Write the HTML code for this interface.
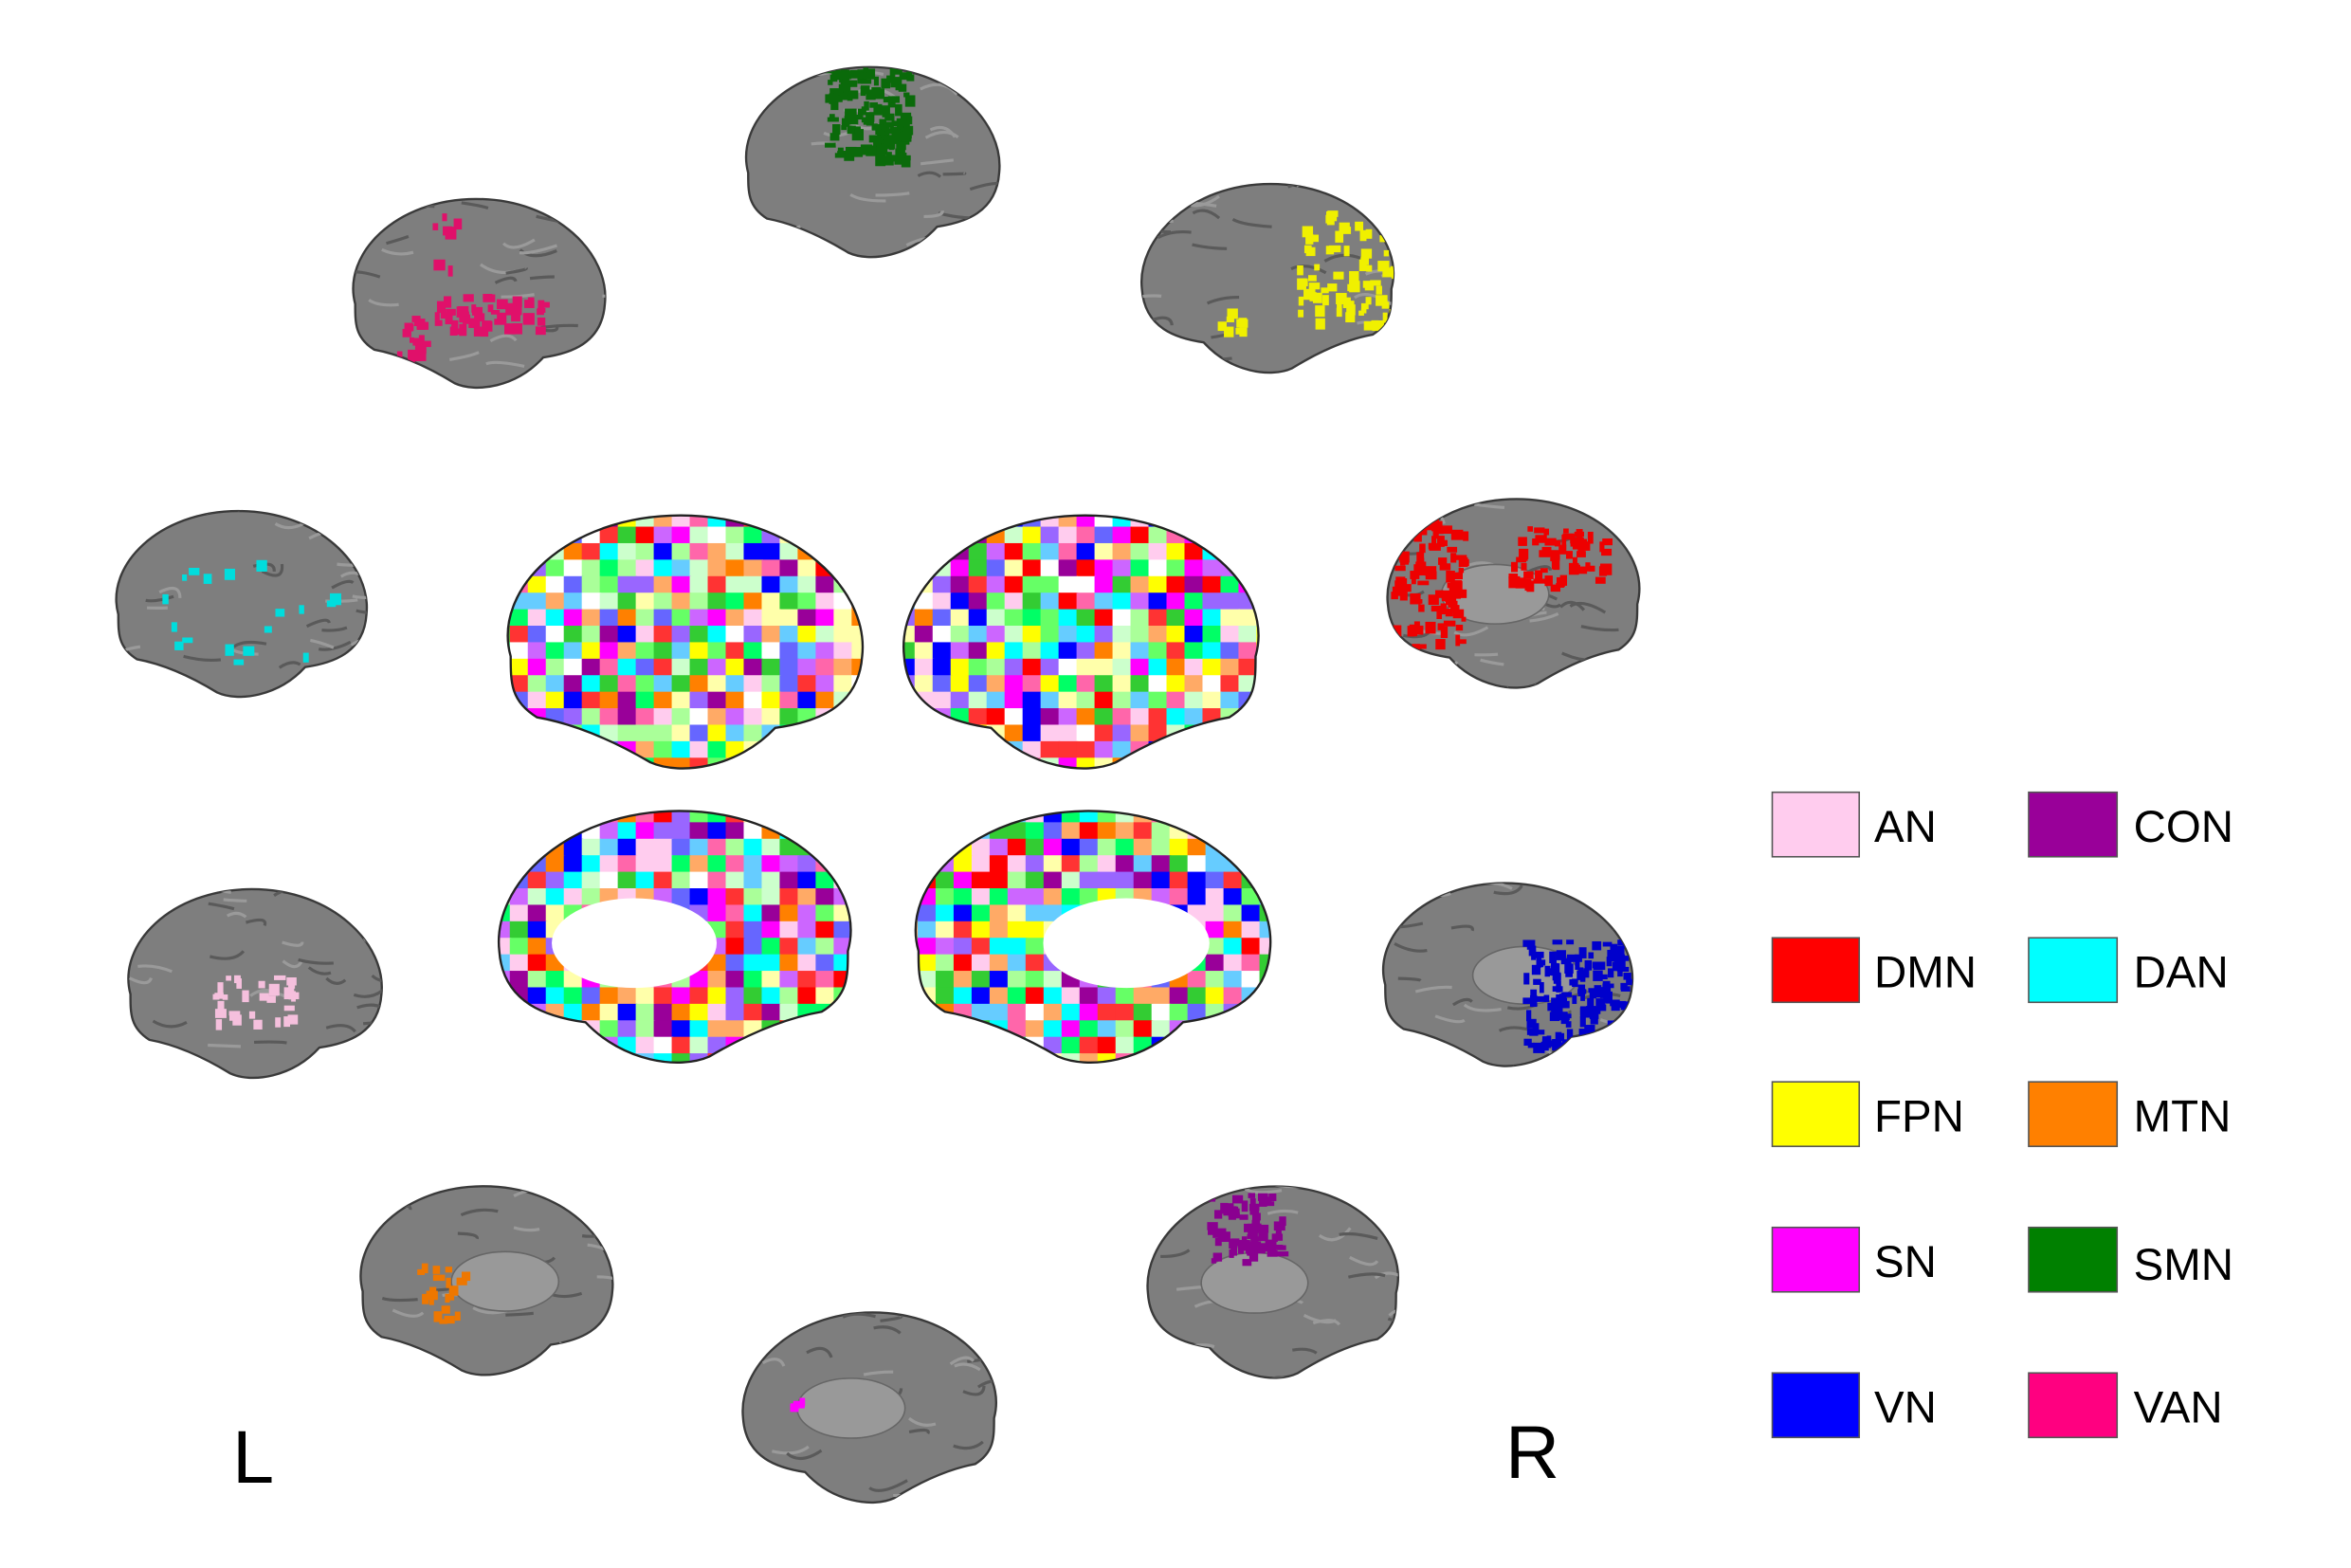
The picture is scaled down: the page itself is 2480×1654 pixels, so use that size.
<!DOCTYPE html>
<html><head><meta charset="utf-8">
<style>
html,body{margin:0;padding:0;background:#fff;}
#wrap{width:2480px;height:1654px;position:relative;overflow:hidden;}
svg{position:absolute;left:0;top:0;}
text{font-family:"Liberation Sans",Arial,sans-serif;}
</style></head>
<body><div id="wrap">
<svg id="s" width="2480" height="1654" viewBox="0 0 1568 1045" preserveAspectRatio="none" xmlns="http://www.w3.org/2000/svg">
<defs></defs>
<g id="brains"></g>
<g font-size="30" fill="#000">
<rect x="1182" y="528" width="58" height="43" fill="#ffccee" stroke="#555" stroke-width="1"/><text x="1250" y="561">AN</text>
<rect x="1353" y="528" width="59" height="43" fill="#990099" stroke="#555" stroke-width="1"/><text x="1423" y="561">CON</text>
<rect x="1182" y="625" width="58" height="43" fill="#ff0000" stroke="#555" stroke-width="1"/><text x="1250" y="658">DMN</text>
<rect x="1353" y="625" width="59" height="43" fill="#00ffff" stroke="#555" stroke-width="1"/><text x="1423" y="658">DAN</text>
<rect x="1182" y="721" width="58" height="43" fill="#ffff00" stroke="#555" stroke-width="1"/><text x="1250" y="754">FPN</text>
<rect x="1353" y="721" width="59" height="43" fill="#ff8000" stroke="#555" stroke-width="1"/><text x="1423" y="754">MTN</text>
<rect x="1182" y="818" width="58" height="43" fill="#ff00ff" stroke="#555" stroke-width="1"/><text x="1250" y="851">SN</text>
<rect x="1353" y="818" width="59" height="43" fill="#008000" stroke="#555" stroke-width="1"/><text x="1423" y="853">SMN</text>
<rect x="1182" y="915" width="58" height="43" fill="#0000ff" stroke="#555" stroke-width="1"/><text x="1250" y="948">VN</text>
<rect x="1353" y="915" width="59" height="43" fill="#ff0080" stroke="#555" stroke-width="1"/><text x="1423" y="948">VAN</text>
<text x="155" y="988" font-size="50">L</text>
<text x="1004" y="985" font-size="50">R</text>
</g>
</svg>
</div>
<script>
var NS="http://www.w3.org/2000/svg";
var g=document.getElementById('brains'),defs=document.querySelector('defs');
var seed=7;function rnd(){seed=(seed*16807)%2147483647;return seed/2147483647;}
function shape(x,y,w,h,flip){
 var P=[[0.05,0.55],[0.0,0.3,0.2,0.02,0.5,0.02],[0.8,0.02,1.0,0.3,0.98,0.55],[0.97,0.75,0.85,0.8,0.75,0.82],[0.65,0.97,0.5,1.0,0.42,0.95],[0.3,0.85,0.2,0.8,0.12,0.78],[0.05,0.72,0.05,0.65,0.05,0.55]];
 function pt(a,b){var u=flip?1-a:a;return (x+u*w).toFixed(1)+","+(y+b*h).toFixed(1);}
 var d="M"+pt(P[0][0],P[0][1]);
 for(var i=1;i<P.length;i++){var p=P[i];d+=" C"+pt(p[0],p[1])+" "+pt(p[2],p[3])+" "+pt(p[4],p[5]);}
 return d+"Z";
}
function el(n,a,parent){var e=document.createElementNS(NS,n);for(var k in a)e.setAttribute(k,a[k]);(parent||g).appendChild(e);return e;}
var cid=0;
function gray(x1,y1,x2,y2,flip,medial,patches){
 var w=x2-x1,h=y2-y1,d=shape(x1,y1,w,h,flip);
 el('path',{d:d,fill:'#7e7e7e',stroke:'#3a3a3a','stroke-width':1.5});
 var id='c'+(cid++);var cp=el('clipPath',{id:id},defs);el('path',{d:d},cp);
 var gg=el('g',{'clip-path':'url(#'+id+')'});
 for(var i=0;i<30;i++){var yy=y1+rnd()*h,xx=x1+rnd()*w;
  el('path',{d:'M'+xx+','+yy+' q'+(6+rnd()*10)+','+(rnd()*16-8)+' '+(12+rnd()*14)+','+(rnd()*10-5),stroke:rnd()<0.5?'#5a5a5a':'#9a9a9a','stroke-width':2,fill:'none'},gg);}
 if(medial){el('ellipse',{cx:x1+w*(flip?0.42:0.58),cy:y1+h*0.5,rx:w*0.2,ry:h*0.15,fill:'#999','stroke':'#666'},gg);}
 (patches||[]).forEach(function(p){
  for(var i=0;i<p[5];i++){el('rect',{x:p[0]+rnd()*p[2],y:p[1]+rnd()*p[3],width:3+rnd()*5,height:3+rnd()*5,fill:p[4]},gg);}
 });
}
var pal=['#ff0000','#00ffff','#ffff00','#ff00ff','#0000ff','#ff8000','#00ff66','#ffccee','#990099','#cc66ff','#66ff66','#ffaa66','#66ccff','#ff66aa','#aaff99','#ffffaa','#9966ff','#ff3333','#33cc33','#ffffff','#ccffcc','#6666ff'];
function color(x1,y1,x2,y2,flip,medial){
 var w=x2-x1,h=y2-y1,d=shape(x1,y1,w,h,flip);
 var id='c'+(cid++);var cp=el('clipPath',{id:id},defs);el('path',{d:d},cp);
 var gg=el('g',{'clip-path':'url(#'+id+')'});
 for(var yy=y1;yy<y2;yy+=11)for(var xx=x1;xx<x2;xx+=12){
  el('rect',{x:xx,y:yy,width:13,height:12,fill:pal[Math.floor(rnd()*pal.length)]},gg);}
 if(medial)el('ellipse',{cx:x1+w*(flip?0.38:0.6),cy:y1+h*0.52,rx:w*0.22,ry:h*0.17,fill:'#fff'},gg);
 el('path',{d:d,fill:'none',stroke:'#222','stroke-width':1.5});
}
gray(490,42,670,175,false,false,[[550,45,55,60,'#0a6a0a',140]]);
gray(228,130,407,262,false,false,[[290,195,70,25,'#e0106a',50],[262,210,20,25,'#e0106a',20],[285,140,20,40,'#e0106a',8]]);
gray(758,120,937,252,true,false,[[865,140,70,75,'#f0f000',80],[812,205,15,15,'#f0f000',8]]);
gray(70,338,248,468,false,false,[[95,370,130,70,'#00dddd',18]]);
gray(922,330,1101,462,true,true,[[926,345,50,85,'#ee0000',100],[1005,350,65,40,'#ee0000',60]]);
gray(78,590,258,722,false,false,[[140,650,55,30,'#f5c0dd',30]]);
gray(915,586,1092,714,false,true,[[1015,625,70,70,'#0000cc',150]]);
gray(233,788,412,920,false,true,[[272,840,40,40,'#ee7700',20]]);
gray(762,788,940,922,true,true,[[805,795,50,45,'#8a0090',70]]);
gray(492,872,672,1005,true,true,[[526,928,8,8,'#ff00ff',5]]);
color(328,340,580,517,false,false);
color(598,340,850,517,true,false);
color(328,537,578,713,true,true);
color(600,537,852,713,false,true);
</script>
</body></html>
